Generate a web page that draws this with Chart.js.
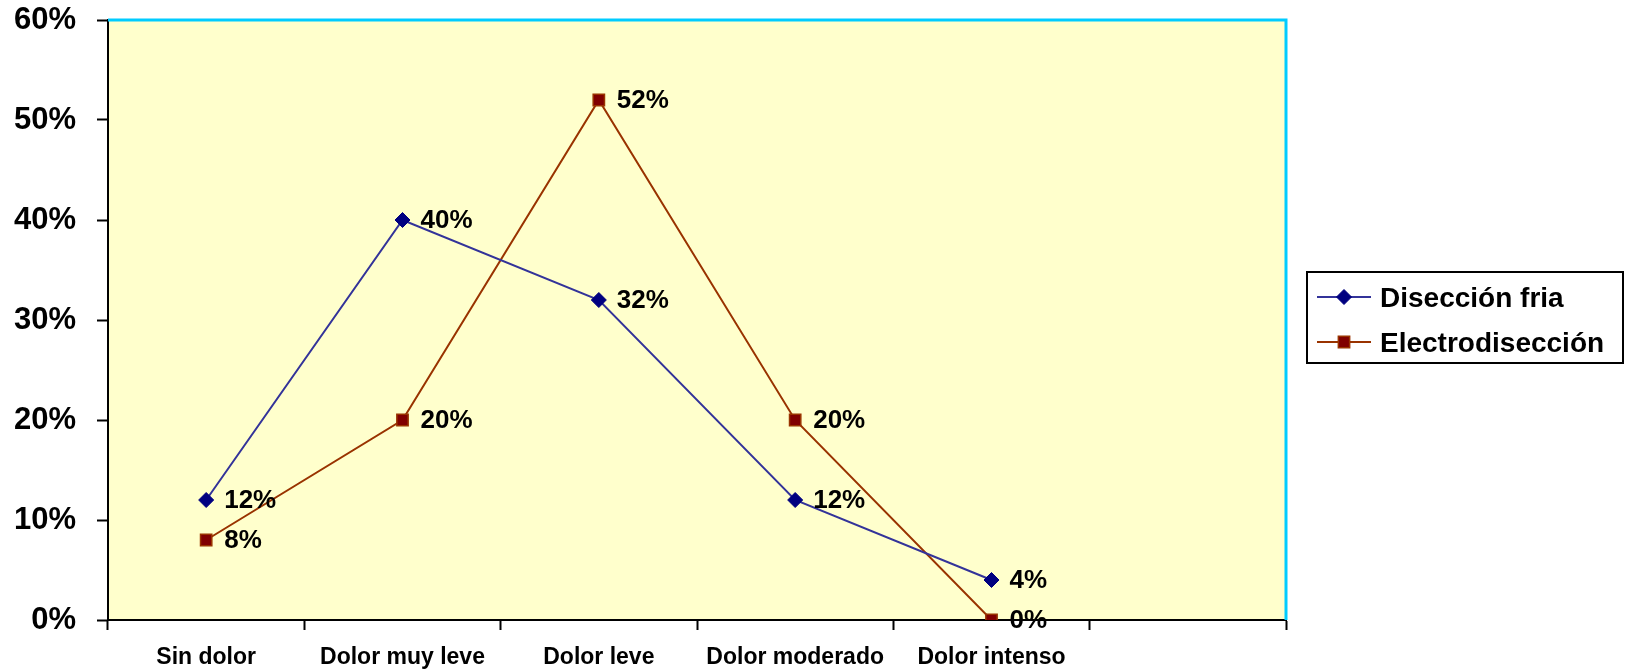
<!DOCTYPE html>
<html lang="es">
<head>
  <meta charset="UTF-8">
  <title>Dolor postoperatorio</title>
  <script src="https://cdn.jsdelivr.net/npm/chart.js"></script>
  <style>
    body {
      margin: 0;
      background: #ffffff;
      font-family: "Liberation Sans", Arial, sans-serif;
    }
    .chart-container {
      width: 1633px;
      height: 670px;
    }
  </style>
</head>
<body>
  <div class="chart-container">
    <canvas id="painChart"></canvas>
  </div>

  <script>
    const categories = ["Sin dolor", "Dolor muy leve", "Dolor leve", "Dolor moderado", "Dolor intenso", ""];
    const seriesNames = ["Disección fria", "Electrodisección"];
    const diseccionFria = [12, 40, 32, 12, 4, null];
    const electrodiseccion = [8, 20, 52, 20, 0, null];
    const yTicks = [0, 10, 20, 30, 40, 50, 60];

    const FONT = '"Liberation Sans", Arial, sans-serif';

    // yellow plot background with cyan top/right frame
    const plotFrame = {
      id: 'plotFrame',
      beforeDraw(chart) {
        const { ctx, chartArea: a } = chart;
        ctx.save();
        ctx.fillStyle = '#FFFFCC';
        ctx.fillRect(a.left, a.top, a.right - a.left, a.bottom - a.top);
        ctx.restore();
      },
      beforeDatasetsDraw(chart) {
        const { ctx, chartArea: a } = chart;
        ctx.save();
        ctx.strokeStyle = '#00CCFF';
        ctx.lineWidth = 3;
        ctx.beginPath();
        ctx.moveTo(a.left, a.top);
        ctx.lineTo(a.right, a.top);
        ctx.lineTo(a.right, a.bottom);
        ctx.stroke();
        ctx.restore();
      }
    };

    // value labels to the right of each point
    const valueLabels = {
      id: 'valueLabels',
      afterDatasetsDraw(chart) {
        const { ctx } = chart;
        ctx.save();
        ctx.font = 'bold 26px ' + FONT;
        ctx.fillStyle = '#000000';
        ctx.textAlign = 'left';
        ctx.textBaseline = 'middle';
        chart.data.datasets.forEach((ds, i) => {
          const meta = chart.getDatasetMeta(i);
          meta.data.forEach((pt, j) => {
            const v = ds.data[j];
            if (v === null || v === undefined) return;
            ctx.fillText(v + '%', pt.x + 18, pt.y + 1);
          });
        });
        ctx.restore();
      }
    };

    // boxed legend with line + marker samples
    const boxLegend = {
      id: 'boxLegend',
      afterDraw(chart) {
        const { ctx } = chart;
        const box = { x: 1307, y: 272, w: 316, h: 91 };
        ctx.save();
        ctx.fillStyle = '#ffffff';
        ctx.fillRect(box.x, box.y, box.w, box.h);
        ctx.strokeStyle = '#000000';
        ctx.lineWidth = 2;
        ctx.strokeRect(box.x, box.y, box.w, box.h);
        ctx.font = 'bold 28px ' + FONT;
        ctx.textAlign = 'left';
        ctx.textBaseline = 'middle';
        chart.data.datasets.forEach((ds, i) => {
          const y = box.y + 25 + i * 45;
          ctx.strokeStyle = ds.borderColor;
          ctx.lineWidth = 2;
          ctx.beginPath();
          ctx.moveTo(box.x + 10, y);
          ctx.lineTo(box.x + 64, y);
          ctx.stroke();
          ctx.fillStyle = ds.pointBackgroundColor;
          ctx.strokeStyle = ds.pointBorderColor;
          ctx.lineWidth = ds.pointBorderWidth;
          Chart.helpers.drawPoint(ctx, {
            pointStyle: ds.pointStyle,
            radius: ds.pointRadius,
            rotation: 0,
            borderWidth: ds.pointBorderWidth
          }, box.x + 37, y);
          ctx.fillStyle = '#000000';
          ctx.fillText(ds.label, box.x + 73, y + 2);
        });
        ctx.restore();
      }
    };

    new Chart(document.getElementById('painChart'), {
      type: 'line',
      data: {
        labels: categories,
        datasets: [
          {
            label: seriesNames[0],
            data: diseccionFria,
            borderColor: '#333399',
            borderWidth: 2,
            pointStyle: 'rectRot',
            pointRadius: 7.5,
            pointBackgroundColor: '#000080',
            pointBorderColor: '#000080',
            pointBorderWidth: 1,
            tension: 0
          },
          {
            label: seriesNames[1],
            data: electrodiseccion,
            borderColor: '#993300',
            borderWidth: 2,
            pointStyle: 'rect',
            pointRadius: 8,
            pointBackgroundColor: '#800000',
            pointBorderColor: '#993300',
            pointBorderWidth: 1.5,
            tension: 0
          }
        ]
      },
      options: {
        responsive: true,
        maintainAspectRatio: false,
        animation: false,
        layout: { padding: { top: 20, right: 347, left: 0, bottom: 0 } },
        plugins: {
          legend: { display: false },
          tooltip: { enabled: false }
        },
        scales: {
          x: {
            offset: true,
            grid: {
              offset: true,
              drawOnChartArea: false,
              drawTicks: true,
              tickLength: 10,
              tickWidth: 2,
              color: '#000000'
            },
            border: { color: '#000000', width: 2 },
            ticks: {
              color: '#000000',
              padding: 14,
              maxRotation: 0,
              autoSkip: false,
              font: { family: FONT, size: 23, weight: 'bold' }
            },
            afterFit: s => { s.height = 50; s.paddingLeft = 0; s.paddingRight = 0; }
          },
          y: {
            min: 0,
            max: 60,
            afterBuildTicks: s => { s.ticks = yTicks.map(v => ({ value: v })); },
            grid: {
              drawOnChartArea: false,
              drawTicks: true,
              tickLength: 11,
              tickWidth: 2,
              color: '#000000'
            },
            border: { color: '#000000', width: 2 },
            ticks: {
              color: '#000000',
              padding: 21,
              callback: v => v + '%',
              font: { family: FONT, size: 31, weight: 'bold' }
            },
            afterFit: s => { s.width = 108; s.paddingTop = 0; s.paddingBottom = 0; }
          }
        }
      },
      plugins: [plotFrame, valueLabels, boxLegend]
    });
  </script>
</body>
</html>
